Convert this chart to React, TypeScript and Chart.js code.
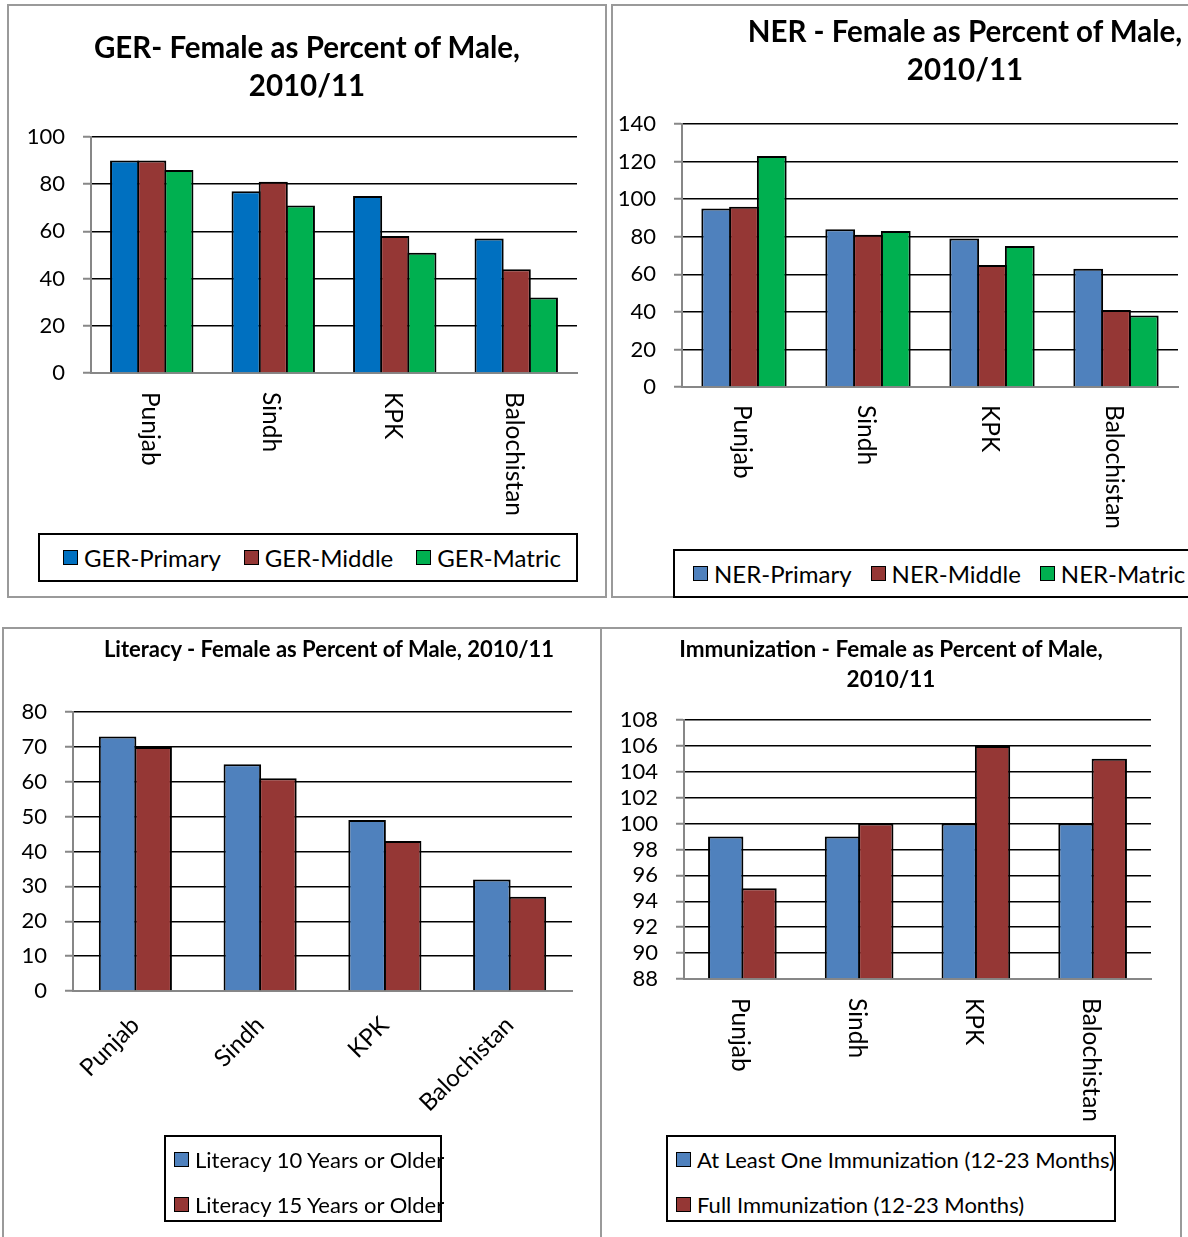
import React, { useEffect, useRef } from "react";
import { Chart, registerables } from "chart.js";

Chart.register(...registerables);

// ---- data -------------------------------------------------------------
const PROVINCES = ["Punjab", "Sindh", "KPK", "Balochistan"];

const GER_PRIMARY = [90, 77, 75, 57];
const GER_MIDDLE = [90, 81, 58, 44];
const GER_MATRIC = [86, 71, 51, 32];

const NER_PRIMARY = [95, 84, 79, 63];
const NER_MIDDLE = [96, 81, 65, 41];
const NER_MATRIC = [123, 83, 75, 38];

const LITERACY_10 = [73, 65, 49, 32];
const LITERACY_15 = [70, 61, 43, 27];

const IMM_ONE = [99, 99, 100, 100];
const IMM_FULL = [95, 100, 106, 105];

// y-axis ranges: [min, max, step]
const GER_AXIS = [0, 100, 20];
const NER_AXIS = [0, 140, 20];
const LITERACY_AXIS = [0, 80, 10];
const IMM_AXIS = [88, 108, 2];

// ---- styling ----------------------------------------------------------
const FONT = "Lato, 'Noto Sans', sans-serif";
const TEXT = "#000";
const AXIS_GRAY = "#878787";
const FRAME_GRAY = "#9a9a9a";
const BLUE_DARK = "#0070C0";
const BLUE = "#4F81BD";
const RED = "#953735";
const GREEN = "#00B050";
const BAR_BORDER = 2;

type Rect = { x: number; y: number; w: number; h: number };
type Series = { name: string; values: number[]; color: string };
type PanelSpec = {
  id: string;
  frame: Rect;
  canvas: Rect;
  plot: { left: number; top: number; right: number; bottom: number };
  axis: number[];
  series: Series[];
  groupFrac: number;
  labels: "vertical" | "diagonal";
  labelGap: number;
  title: { lines: string[]; cx: number; firstY: number; lineH: number; size: number };
  legend: { box: Rect; dir: "row" | "column"; size: number; padLeft: number; gap: number };
};

const PANELS: PanelSpec[] = [
  {
    id: "ger",
    frame: { x: 7, y: 4, w: 600, h: 594 },
    canvas: { x: 8, y: 5, w: 598, h: 592 },
    plot: { left: 91, top: 137, right: 577, bottom: 373 },
    axis: GER_AXIS,
    series: [
      { name: "GER-Primary", values: GER_PRIMARY, color: BLUE_DARK },
      { name: "GER-Middle", values: GER_MIDDLE, color: RED },
      { name: "GER-Matric", values: GER_MATRIC, color: GREEN },
    ],
    groupFrac: 0.67,
    labels: "vertical",
    labelGap: 19,
    title: { lines: ["GER- Female as Percent of Male,", "2010/11"], cx: 307, firstY: 47, lineH: 38, size: 29.5 },
    legend: { box: { x: 38, y: 533, w: 540, h: 49 }, dir: "row", size: 24, padLeft: 23, gap: 23 },
  },
  {
    id: "ner",
    frame: { x: 611, y: 4, w: 710, h: 594 },
    canvas: { x: 612, y: 5, w: 706, h: 592 },
    plot: { left: 682, top: 124, right: 1178, bottom: 387 },
    axis: NER_AXIS,
    series: [
      { name: "NER-Primary", values: NER_PRIMARY, color: BLUE },
      { name: "NER-Middle", values: NER_MIDDLE, color: RED },
      { name: "NER-Matric", values: NER_MATRIC, color: GREEN },
    ],
    groupFrac: 0.672,
    labels: "vertical",
    labelGap: 18,
    title: { lines: ["NER - Female as Percent of Male,", "2010/11"], cx: 965, firstY: 31, lineH: 38, size: 29.5 },
    legend: { box: { x: 673, y: 549, w: 560, h: 49 }, dir: "row", size: 24, padLeft: 18, gap: 19 },
  },
  {
    id: "literacy",
    frame: { x: 2, y: 627, w: 600, h: 640 },
    canvas: { x: 3, y: 628, w: 598, h: 609 },
    plot: { left: 73, top: 712, right: 572, bottom: 991 },
    axis: LITERACY_AXIS,
    series: [
      { name: "Literacy 10 Years or Older", values: LITERACY_10, color: BLUE },
      { name: "Literacy 15 Years or Older", values: LITERACY_15, color: RED },
    ],
    groupFrac: 0.57,
    labels: "diagonal",
    labelGap: 20,
    title: { lines: ["Literacy - Female as Percent of Male, 2010/11"], cx: 329, firstY: 649, lineH: 30, size: 22 },
    legend: { box: { x: 164, y: 1135, w: 278, h: 87 }, dir: "column", size: 22, padLeft: 8, gap: 0 },
  },
  {
    id: "immunization",
    frame: { x: 600, y: 627, w: 582, h: 640 },
    canvas: { x: 601, y: 628, w: 580, h: 609 },
    plot: { left: 684, top: 720, right: 1151, bottom: 979 },
    axis: IMM_AXIS,
    series: [
      { name: "At Least One Immunization (12-23 Months)", values: IMM_ONE, color: BLUE },
      { name: "Full Immunization (12-23 Months)", values: IMM_FULL, color: RED },
    ],
    groupFrac: 0.571,
    labels: "vertical",
    labelGap: 19,
    title: { lines: ["Immunization - Female as Percent of Male,", "2010/11"], cx: 891, firstY: 649, lineH: 30, size: 22.5 },
    legend: { box: { x: 666, y: 1135, w: 450, h: 87 }, dir: "column", size: 22, padLeft: 8, gap: 0 },
  },
];

// Category names written top-to-bottom beneath each group of bars
function verticalLabelsPlugin(gap: number, size: number) {
  return {
    id: "verticalLabels",
    afterDraw(chart: any) {
      const xs = chart.scales.x;
      const ctx = chart.ctx;
      ctx.save();
      ctx.font = `${size}px ${FONT}`;
      ctx.fillStyle = TEXT;
      ctx.textAlign = "left";
      ctx.textBaseline = "middle";
      (chart.data.labels as string[]).forEach((lab, i) => {
        const px = xs.getPixelForValue(i);
        ctx.save();
        ctx.translate(px - 2, xs.top + gap);
        ctx.rotate(Math.PI / 2);
        ctx.fillText(lab, 0, 0);
        ctx.restore();
      });
      ctx.restore();
    },
  };
}

function buildConfig(p: PanelSpec): any {
  const [min, max, step] = p.axis;
  const plotW = p.plot.right - p.plot.left;
  const slot = (plotW / PROVINCES.length) * p.groupFrac / p.series.length;
  const yWidth = p.plot.left - p.canvas.x;
  const xHeight = p.canvas.y + p.canvas.h - p.plot.bottom;

  return {
    type: "bar",
    data: {
      labels: PROVINCES,
      datasets: p.series.map((s) => ({
        label: s.name,
        data: s.values,
        backgroundColor: s.color,
        borderColor: "#000",
        borderWidth: BAR_BORDER,
        base: min,
        categoryPercentage: p.groupFrac,
        barPercentage: 1 + BAR_BORDER / slot,
      })),
    },
    options: {
      responsive: false,
      animation: false,
      layout: {
        padding: {
          left: 0,
          top: p.plot.top - p.canvas.y,
          right: p.canvas.x + p.canvas.w - p.plot.right,
          bottom: 0,
        },
      },
      plugins: {
        legend: { display: false },
        title: { display: false },
        tooltip: { enabled: false },
      },
      scales: {
        x: {
          grid: { display: false, drawTicks: false },
          border: { color: AXIS_GRAY, width: 2 },
          ticks:
            p.labels === "diagonal"
              ? {
                  display: true,
                  minRotation: 45,
                  maxRotation: 45,
                  autoSkip: false,
                  padding: p.labelGap,
                  color: TEXT,
                  font: { family: FONT, size: 24 },
                }
              : { display: false },
          afterFit: (s: any) => {
            s.height = xHeight;
          },
        },
        y: {
          min,
          max,
          ticks: {
            stepSize: step,
            autoSkip: false,
            padding: 18,
            color: TEXT,
            font: { family: FONT, size: 22 },
          },
          grid: {
            color: (c: any) => (c.tick && c.tick.value === min ? AXIS_GRAY : "#000"),
            tickColor: AXIS_GRAY,
            lineWidth: 1.5,
            tickWidth: 2,
            tickLength: 8,
            drawTicks: true,
          },
          border: { color: AXIS_GRAY, width: 2 },
          afterFit: (s: any) => {
            s.width = yWidth;
          },
        },
      },
    },
    plugins: p.labels === "vertical" ? [verticalLabelsPlugin(p.labelGap, 24.5)] : [],
  };
}

function Legend({ p }: { p: PanelSpec }) {
  const { box, dir, size, padLeft, gap } = p.legend;
  const swatch = (color: string) => (
    <span
      style={{
        display: "inline-block",
        width: 13,
        height: 13,
        background: color,
        border: "1px solid #000",
        marginRight: 6,
        flex: "0 0 auto",
      }}
    />
  );
  return (
    <div
      style={{
        position: "absolute",
        left: box.x,
        top: box.y,
        width: box.w,
        height: box.h,
        boxSizing: "border-box",
        border: "2px solid #000",
        background: "#fff",
        display: "flex",
        flexDirection: dir,
        alignItems: dir === "row" ? "center" : "flex-start",
        justifyContent: "flex-start",
        paddingLeft: padLeft,
        gap: dir === "row" ? gap : 0,
        fontFamily: FONT,
        fontSize: size,
        color: TEXT,
        whiteSpace: "nowrap",
      }}
    >
      {p.series.map((s) => (
        <div
          key={s.name}
          style={{
            display: "flex",
            alignItems: "center",
            height: dir === "row" ? "auto" : 45,
            flex: "0 0 auto",
          }}
        >
          {swatch(s.color)}
          <span>{s.name}</span>
        </div>
      ))}
    </div>
  );
}

function Panel({ p }: { p: PanelSpec }) {
  const ref = useRef<HTMLCanvasElement>(null);
  useEffect(() => {
    if (!ref.current) return;
    const chart = new Chart(ref.current, buildConfig(p));
    return () => chart.destroy();
  }, [p]);

  const t = p.title;
  return (
    <>
      <div
        style={{
          position: "absolute",
          left: p.frame.x,
          top: p.frame.y,
          width: p.frame.w,
          height: p.frame.h,
          boxSizing: "border-box",
          border: `2px solid ${FRAME_GRAY}`,
        }}
      />
      <canvas
        ref={ref}
        width={p.canvas.w}
        height={p.canvas.h}
        style={{
          position: "absolute",
          left: p.canvas.x,
          top: p.canvas.y,
          width: p.canvas.w,
          height: p.canvas.h,
        }}
      />
      <div
        style={{
          position: "absolute",
          left: t.cx - 400,
          width: 800,
          top: t.firstY - t.lineH / 2,
          lineHeight: `${t.lineH}px`,
          textAlign: "center",
          fontFamily: FONT,
          fontWeight: 700,
          fontSize: t.size,
          color: TEXT,
          whiteSpace: "nowrap",
        }}
      >
        {t.lines.map((l) => (
          <div key={l}>{l}</div>
        ))}
      </div>
      <Legend p={p} />
    </>
  );
}

export default function App() {
  return (
    <div
      style={{
        position: "absolute",
        left: 0,
        top: 0,
        width: 1188,
        height: 1237,
        overflow: "hidden",
        background: "#fff",
      }}
    >
      {PANELS.map((p) => (
        <Panel key={p.id} p={p} />
      ))}
    </div>
  );
}
